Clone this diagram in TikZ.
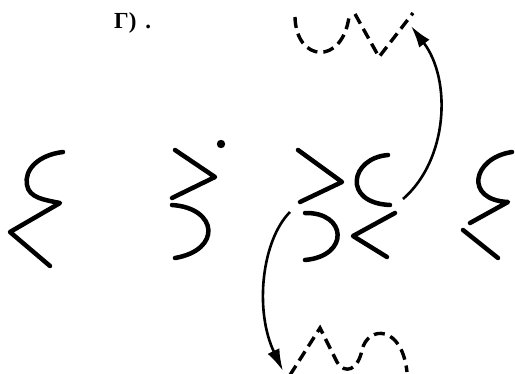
\documentclass[tikz,border=0pt]{standalone}
\usepackage{fontspec}
\setmainfont{Liberation Serif}
\usepackage{tikz}
\usetikzlibrary{arrows.meta}
\tikzset{
    glyph/.style={draw=black, line width=4.5pt, line cap=round, line join=round},
    ghost/.style={draw=black, line width=3.4pt, dash pattern=on 11pt off 6pt},
    jump/.style={draw=black, line width=2.6pt, -{Latex[length=22pt, width=13pt]}},
    caption/.style={font=\bfseries\fontsize{23}{27}\selectfont, inner sep=0pt}
}
\begin{document}
\begin{tikzpicture}[x=1pt, y=-1pt]
    \useasboundingbox (0,0) rectangle (515,373);
    \node[caption, anchor=base west] (tag) at (114,28) {Г)\hspace{9pt}.};
    % first curl
    \draw[glyph] (63,152) .. controls (38,155) and (24,170) .. (27,185)
        .. controls (29,198) and (45,200) .. (60,203) -- (10,232) -- (50,266);
    % second one, with its dot
    \draw[glyph] (175,150) -- (215,177) -- (172,198);
    \draw[glyph] (172,205) .. controls (218,208) and (222,250) .. (175,258);
    \fill (221,144) circle (4.2);
    % the split pair in the middle
    \draw[glyph] (298,150) -- (342,182) -- (300,202);
    \draw[glyph] (305,213) .. controls (347,212) and (350,256) .. (305,260);
    \draw[glyph] (388,155) .. controls (350,158) and (342,203) .. (390,205);
    \draw[glyph] (395,213) -- (353,236) -- (387,257);
    % last curl
    \draw[glyph] (512,152) .. controls (472,158) and (464,200) .. (508,202) -- (470,223);
    \draw[glyph] (463,230) -- (498,258);
    % dashed ghosts
    \draw[ghost] (295,17) .. controls (296,62) and (342,66) .. (349,17);
    \draw[ghost] (355,14) -- (379,57) -- (413,13);
    \draw[ghost] (290,375) -- (320,328) -- (337,362)
        .. controls (345,375) and (358,370) .. (362,350)
        .. controls (368,325) and (402,325) .. (407,372);
    % where the pieces go
    \coordinate (upFrom) at (403,199);
    \coordinate (upTo) at (411,26);
    \coordinate (downFrom) at (290,212);
    \coordinate (downTo) at (283,371);
    \draw[jump] (upFrom) .. controls (448,160) and (452,80) .. (upTo);
    \draw[jump] (downFrom) .. controls (262,240) and (254,310) .. (downTo);
\end{tikzpicture}
\end{document}
